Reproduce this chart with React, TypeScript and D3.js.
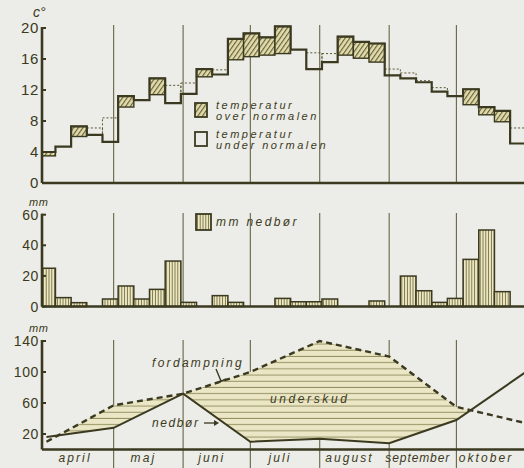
import * as d3 from 'd3';

// days counted from 1 April; weeks start 3 days before
const monthStarts = [0, 30, 61, 91, 122, 153, 183, 214];
const monthNames = ['april', 'maj', 'juni', 'juli', 'august', 'september', 'oktober'];

// weekly mean temperature and the normal for the same week (°C)
const tempWeek = [4.0, 4.7, 7.3, 6.2, 5.3, 11.2, 10.7, 13.5, 10.3, 11.5, 14.7, 14.0, 18.6, 19.3, 18.8, 20.2,
  17.2, 14.7, 15.6, 18.9, 18.2, 18.0, 13.9, 13.5, 13.0, 11.8, 11.2, 12.1, 9.8, 9.3, 5.1];
const normalWeek = [3.5, 4.7, 6.0, 7.1, 8.4, 9.8, 10.7, 11.4, 12.6, 12.9, 13.7, 14.6, 15.9, 16.3, 16.5, 16.7,
  17.2, 16.8, 16.7, 16.5, 16.1, 15.6, 14.7, 14.2, 13.2, 12.3, 11.2, 10.1, 8.8, 7.9, 7.1];
// weekly precipitation (mm)
const rainWeek = [25, 5.8, 2.5, 0, 4.9, 13.4, 4.9, 11.2, 29.7, 2.7, 0, 7.1, 2.7, 0, 0, 5.3,
  3.1, 3.1, 4.9, 0, 0, 3.6, 0, 19.9, 10.3, 2.7, 5.3, 30.8, 50, 9.7, 0];

// monthly values plotted at the month boundaries (mm)
const rainMonth = [16, 28, 72, 10, 14, 8, 38, 100];
const evapMonth = [10, 57, 72, 100, 140, 120, 55, 34];

const tempTicks = [0, 4, 8, 12, 16, 20];
const rainTicks = [0, 20, 40, 60];
const balanceTicks = [20, 60, 100, 140];

const W = 524;
const H = 468;
const INK = '#3b3a20';
const LINE = '#5a5834';
const BG = '#ecece8';
const FONT = '"Liberation Sans", Arial, Helvetica, sans-serif';

const x = d3.scaleLinear().domain([-2, 214]).range([42, 525.8]);
const yT = d3.scaleLinear().domain([0, 20]).range([183, 28]);
const yR = d3.scaleLinear().domain([0, 60]).range([306.5, 214.7]);
const yB = d3.scaleLinear().domain([0, 140]).range([449.5, 341]);

const left = x.range()[0];
const weeks = tempWeek.map((t, i) => {
  const d0 = -3 + 7 * i;
  return { x0: Math.max(x(d0), left), x1: x(d0 + 7), t, n: normalWeek[i], r: rainWeek[i] };
});

const italic = {
  fontFamily: FONT,
  fontStyle: 'italic' as const,
  fontSize: 12,
  letterSpacing: 2.1,
  fill: INK,
};
const legendText = { ...italic, fontSize: 11, letterSpacing: 2.5 };

function YAxis({ y, ticks, top, size = 14 }: { y: d3.ScaleLinear<number, number>; ticks: number[]; top: number; size?: number }) {
  return (
    <g>
      <line x1={left} x2={left} y1={top} y2={y(0)} stroke={INK} strokeWidth={2.6} />
      <line x1={left} x2={W} y1={y(0)} y2={y(0)} stroke={INK} strokeWidth={2.6} />
      {ticks.map(t => (
        <g key={t}>
          <line x1={left} x2={left + 4} y1={y(t)} y2={y(t)} stroke={INK} strokeWidth={2} />
          <text x={left - 3} y={y(t)} dy="0.36em" textAnchor="end"
            style={{ fontFamily: FONT, fontSize: size, fill: INK, letterSpacing: 0.6 }}>{t}</text>
        </g>
      ))}
    </g>
  );
}

function MonthLines({ y1, y2 }: { y1: number; y2: number }) {
  return (
    <g>
      {monthStarts.slice(1).map(d => (
        <line key={d} x1={x(d)} x2={x(d)} y1={y1} y2={y2} stroke={LINE} strokeWidth={1} />
      ))}
    </g>
  );
}

export default function App() {
  const stepLine = d3.line<{ x: number; v: number }>()
    .x(d => d.x).y(d => yT(d.v)).curve(d3.curveStepAfter);
  const stepPts = weeks.map(w => ({ x: w.x0, v: w.t }));
  stepPts.push({ x: weeks[weeks.length - 1].x1, v: weeks[weeks.length - 1].t });

  const monthLine = d3.line<number>().x((_, i) => x(monthStarts[i])).y(v => yB(v));
  const evapArea = d3.area<number>().x((_, i) => x(monthStarts[i])).y0(yB(0)).y1(v => yB(v));
  const aboveRain = d3.area<number>().x((_, i) => x(monthStarts[i])).y0(0).y1(v => yB(v));

  return (
    <div style={{ position: 'absolute', left: 0, top: 0 }}>
      <svg width={W} height={H} style={{ display: 'block' }}>
        <defs>
          <pattern id="diag" patternUnits="userSpaceOnUse" width="3.8" height="3.8" patternTransform="rotate(35)">
            <rect width="3.8" height="3.8" fill="#e2dbab" />
            <line x1="0.6" y1="0" x2="0.6" y2="3.8" stroke="#5e5a36" strokeWidth="1.1" />
          </pattern>
          <pattern id="vert" patternUnits="userSpaceOnUse" width="2.8" height="10">
            <rect width="2.8" height="10" fill="#eee8c0" />
            <line x1="1.4" y1="0" x2="1.4" y2="10" stroke="#6b6843" strokeWidth="0.9" />
          </pattern>
          <pattern id="horiz" patternUnits="userSpaceOnUse" width="10" height="6.2">
            <rect width="10" height="6.2" fill="#ebe7c6" />
            <line x1="0" y1="3" x2="10" y2="3" stroke="#8c8858" strokeWidth="0.9" />
          </pattern>
          <clipPath id="aboveRain">
            <path d={aboveRain(rainMonth) ?? ''} />
          </clipPath>
        </defs>
        <rect width={W} height={H} fill={BG} />

        {/* ---- temperature ---- */}
        <MonthLines y1={25} y2={yT(0)} />
        {weeks.filter(w => w.t > w.n).map((w, i) => (
          <rect key={'o' + i} x={w.x0} y={yT(w.t)} width={w.x1 - w.x0} height={yT(w.n) - yT(w.t)}
            fill="url(#diag)" stroke={INK} strokeWidth={1.4} />
        ))}
        {weeks.filter(w => w.t < w.n).map((w, i) => (
          <rect key={'u' + i} x={w.x0} y={yT(w.n)} width={w.x1 - w.x0} height={yT(w.t) - yT(w.n)}
            fill="none" stroke={LINE} strokeWidth={1} strokeDasharray="2,2" />
        ))}
        <path d={stepLine(stepPts) ?? ''} fill="none" stroke={INK} strokeWidth={2.2} />
        <YAxis y={yT} ticks={tempTicks} top={yT(20) - 1} size={15} />
        <text x={33} y={17} style={{ ...italic, fontSize: 14, letterSpacing: 0 }}>c°</text>

        <rect x={195} y={103} width={12} height={14} fill="url(#diag)" stroke={INK} strokeWidth={1.8} />
        <text x={216} y={108.5} style={legendText}>temperatur</text>
        <text x={216} y={120} style={legendText}>over normalen</text>
        <rect x={195} y={132} width={12} height={14} fill={BG} stroke={INK} strokeWidth={1.8} />
        <text x={216} y={137.5} style={legendText}>temperatur</text>
        <text x={216} y={149} style={legendText}>under normalen</text>

        {/* ---- precipitation bars ---- */}
        <MonthLines y1={213} y2={yR(0)} />
        {weeks.filter(w => w.r > 0).map((w, i) => (
          <rect key={'r' + i} x={w.x0} y={yR(w.r)} width={w.x1 - w.x0} height={yR(0) - yR(w.r)}
            fill="url(#vert)" stroke={INK} strokeWidth={1.5} />
        ))}
        <YAxis y={yR} ticks={rainTicks} top={yR(60) - 1} />
        <text x={29} y={206} style={{ ...italic, fontSize: 11, letterSpacing: 0.5 }}>mm</text>
        <rect x={196} y={214} width={15} height={16} fill="url(#vert)" stroke={INK} strokeWidth={1.8} />
        <text x={216} y={226} style={{ ...italic, letterSpacing: 2.4 }}>mm nedbør</text>

        {/* ---- water balance ---- */}
        <MonthLines y1={340} y2={H} />
        <path d={evapArea(evapMonth) ?? ''} fill="url(#horiz)" clipPath="url(#aboveRain)" />
        <path d={monthLine(evapMonth) ?? ''} fill="none" stroke={INK} strokeWidth={2.4} strokeDasharray="6,4" />
        <path d={monthLine(rainMonth) ?? ''} fill="none" stroke={INK} strokeWidth={2} />
        <YAxis y={yB} ticks={balanceTicks} top={yB(140) - 1} />
        <text x={29} y={332} style={{ ...italic, fontSize: 11, letterSpacing: 0.5 }}>mm</text>

        <text x={152} y={366.5} style={{ ...italic, letterSpacing: 2.3 }}>fordampning</text>
        <path d="M216,369 L221,381 M217,383 L226,379" fill="none" stroke={INK} strokeWidth={1.4} />
        <text x={270} y={402.5} style={{ ...italic, letterSpacing: 2.6 }}>underskud</text>
        <text x={152} y={426.5} style={{ ...italic, letterSpacing: 1.6 }}>nedbør</text>
        <path d="M204,423 H217" stroke={INK} strokeWidth={1.3} />
        <path d="M214,420 L219,423 L214,426 Z" fill={INK} />

        {monthNames.map((m, i) => (
          <text key={m} x={(x(monthStarts[i]) + x(monthStarts[i + 1])) / 2 - 5} y={462} textAnchor="middle"
            style={{ ...italic, letterSpacing: m === 'september' ? 0.9 : 2.1 }}>{m}</text>
        ))}
      </svg>
    </div>
  );
}
